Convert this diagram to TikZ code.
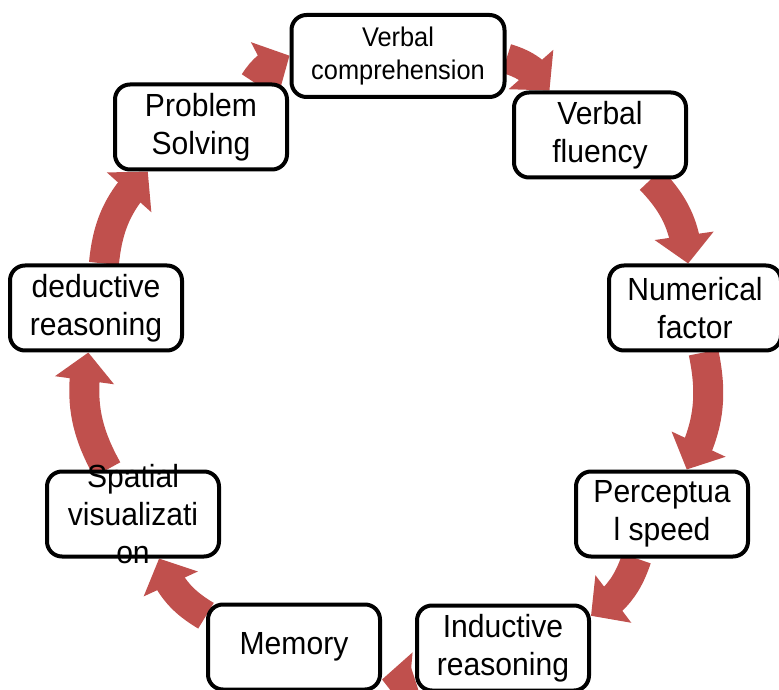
\documentclass[tikz,border=0pt]{standalone}
\usepackage{fontspec}
\setmainfont{Liberation Sans}[FakeStretch=0.94]
\usetikzlibrary{arrows.meta,bending,backgrounds}
\definecolor{arrowred}{HTML}{C0504D}

\begin{document}
\begin{tikzpicture}[x=1pt, y=1pt,
		box/.style={draw, line width=4pt, rounded corners=15pt, fill=white, minimum width=172pt, minimum height=85pt, inner sep=0pt},
		lbl/.style={align=center, font=\fontsize{32}{38}\selectfont},
		cyc/.style={arrowred, line width=30pt, -{Triangle[length=28pt, width=58pt]}}]
			\useasboundingbox (0, 0) rectangle (779, 689);
			\node[box, minimum width=213pt, minimum height=82pt] (vc) at (398, 633) {};
			\node[box] (vf) at (600, 554) {};
			\node[box] (nf) at (695, 381) {};
			\node[box] (ps) at (662, 175) {};
			\node[box] (ir) at (503, 41) {};
			\node[box] (mem) at (294, 42) {};
			\node[box] (sv) at (133, 175) {};
			\node[box] (dr) at (96, 381) {};
			\node[box] (psol) at (201, 562) {};
			\node[lbl, font=\fontsize{27}{33}\selectfont] (vcl) at (vc) {Verbal\\comprehension};
			\node[lbl] (vfl) at (vf) {Verbal\\fluency};
			\node[lbl] (nfl) at (nf) {Numerical\\factor};
			\node[lbl] (psl) at (ps) {Perceptua\\l speed};
			\node[lbl] (irl) at (ir) {Inductive\\reasoning};
			\node[lbl] (meml) at (mem) {Memory};
			\node[lbl] (svl) at (sv) {Spatial\\visualizati\\on};
			\node[lbl] (drl) at (dr) {deductive\\reasoning};
			\node[lbl] (psoll) at (psol) {Problem\\Solving};
			\begin{pgfonlayer}{background}
				\draw[cyc] (vc) to[bend left=20] (vf);
				\draw[cyc] (vf) to[bend left=20] (nf);
				\draw[cyc] (nf) to[bend left=20] (ps);
				\draw[cyc] (ps) to[bend left=20] (ir);
				\draw[cyc] (ir) to[bend left=20] (mem);
				\draw[cyc] (mem) to[bend left=20] (sv);
				\draw[cyc] (sv) to[bend left=20] (dr);
				\draw[cyc] (dr) to[bend left=20] (psol);
				\draw[cyc] (psol) to[bend left=20] (vc);
			\end{pgfonlayer}
\end{tikzpicture}
\end{document}
